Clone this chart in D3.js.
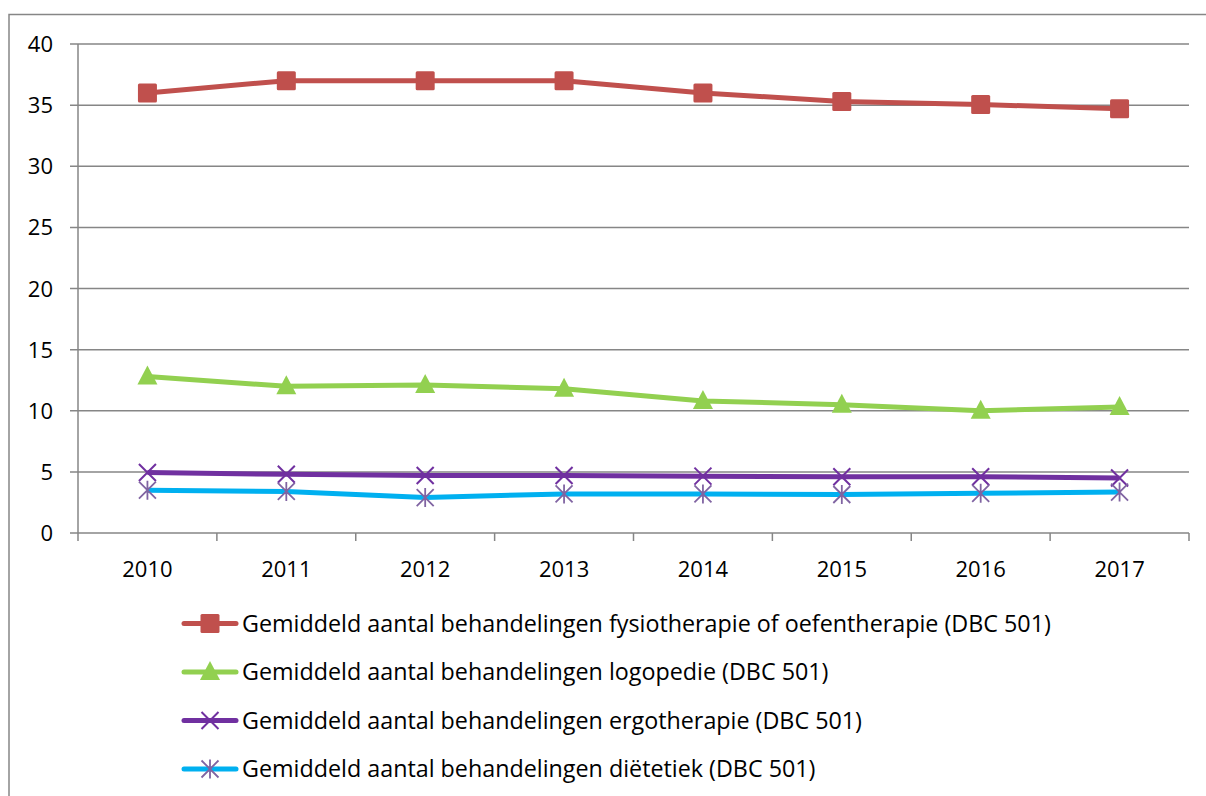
<!DOCTYPE html>
<html><head><meta charset="utf-8">
<script src="https://cdn.jsdelivr.net/npm/d3@7"></script>
<style>
html,body{margin:0;padding:0;background:#fff;}
svg{display:block;}
text{font-family:"Open Sans",Lato,sans-serif;fill:#000;}
</style></head><body>
<svg id="chart" width="1206" height="796"></svg>
<script>
const years = ["2010","2011","2012","2013","2014","2015","2016","2017"];
const yTicks = [0,5,10,15,20,25,30,35,40];
const seriesNames = [
  "Gemiddeld aantal behandelingen fysiotherapie of oefentherapie (DBC 501)",
  "Gemiddeld aantal behandelingen logopedie (DBC 501)",
  "Gemiddeld aantal behandelingen ergotherapie (DBC 501)",
  "Gemiddeld aantal behandelingen diëtetiek (DBC 501)"
];
const fysio = [36.0, 37.0, 37.0, 37.0, 36.0, 35.3, 35.05, 34.7];
const logopedie = [12.8, 12.0, 12.1, 11.8, 10.8, 10.5, 10.0, 10.3];
const ergo = [4.95, 4.8, 4.7, 4.7, 4.65, 4.6, 4.6, 4.5];
const dietetiek = [3.5, 3.4, 2.9, 3.2, 3.2, 3.15, 3.25, 3.35];
const lineColors = ["#C0504D","#92D050","#7030A0","#00B0F0"];
const markerColors = ["#C0504D","#92D050","#7030A0","#8064A2"];
const markerTypes = ["square","triangle","x","asterisk"];
const seriesValues = [fysio, logopedie, ergo, dietetiek];

const svg = d3.select("#chart");
svg.append("rect").attr("x",9).attr("y",14.5).attr("width",1210).attr("height",800)
  .attr("fill","none").attr("stroke","#868686").attr("stroke-width",1.5);

const pLeft=78, pRight=1189, pTop=44, pBottom=533;
const x = d3.scaleBand().domain(years).range([pLeft,pRight]);
const y = d3.scaleLinear().domain([0,40]).range([pBottom,pTop]);
const grid="#868686";

const g = svg.append("g");
g.selectAll(".grid").data(yTicks).join("line")
  .attr("x1",pLeft-8).attr("x2",pRight).attr("y1",d=>y(d)).attr("y2",d=>y(d))
  .attr("stroke",grid).attr("stroke-width",1.5);
g.append("line").attr("x1",pLeft).attr("x2",pLeft).attr("y1",pTop).attr("y2",pBottom+8)
  .attr("stroke",grid).attr("stroke-width",1.5);
const bounds = years.map(d=>x(d)).concat([pRight]).slice(1);
g.selectAll(".xt").data(bounds).join("line")
  .attr("x1",d=>d).attr("x2",d=>d).attr("y1",pBottom).attr("y2",pBottom+8)
  .attr("stroke",grid).attr("stroke-width",1.5);
g.selectAll(".yl").data(yTicks).join("text")
  .attr("x",53).attr("y",d=>y(d)+8).attr("text-anchor","end")
  .style("font-size","22px").text(d=>d);
g.selectAll(".xl").data(years).join("text")
  .attr("x",d=>x(d)+x.bandwidth()/2).attr("y",577).attr("text-anchor","middle")
  .style("font-size","22px").text(d=>d);

const line = d3.line().x((d,i)=>x(years[i])+x.bandwidth()/2).y(d=>y(d));
seriesValues.forEach((vals,si)=>{
  svg.append("path").datum(vals).attr("d",line).attr("fill","none")
    .attr("stroke",lineColors[si]).attr("stroke-width",5).attr("stroke-linejoin","round");
});

function drawMarker(sel, type, color, cx, cy){
  if(type==="square"){
    sel.append("rect").attr("x",cx-9.5).attr("y",cy-9.5).attr("width",19).attr("height",19)
      .attr("rx",1.5).attr("fill",color);
  } else if(type==="triangle"){
    sel.append("path").attr("d",`M${cx},${cy-11}L${cx+10},${cy+8}L${cx-10},${cy+8}Z`).attr("fill",color);
  } else if(type==="x"){
    const s=8.5;
    sel.append("path").attr("d",`M${cx-s},${cy-s}L${cx+s},${cy+s}M${cx+s},${cy-s}L${cx-s},${cy+s}`)
      .attr("stroke",color).attr("stroke-width",2).attr("fill","none");
  } else {
    const s=8.5;
    sel.append("path").attr("d",`M${cx-s},${cy-s}L${cx+s},${cy+s}M${cx+s},${cy-s}L${cx-s},${cy+s}M${cx},${cy-s-1}L${cx},${cy+s+1}`)
      .attr("stroke",color).attr("stroke-width",1.8).attr("fill","none");
  }
}
seriesValues.forEach((vals,si)=>{
  const mg = svg.append("g");
  vals.forEach((v,i)=>drawMarker(mg, markerTypes[si], markerColors[si], x(years[i])+x.bandwidth()/2, y(v)));
});

const legY = [623.5, 672, 720.5, 769];
seriesNames.forEach((name,si)=>{
  const lg = svg.append("g");
  const cy = legY[si];
  lg.append("line").attr("x1",184).attr("x2",236).attr("y1",cy).attr("y2",cy)
    .attr("stroke",lineColors[si]).attr("stroke-width",5).attr("stroke-linecap","round");
  drawMarker(lg, markerTypes[si], markerColors[si], 210, cy);
  lg.append("text").attr("x",242).attr("y",cy+8).style("font-size","23.3px").text(name);
});
</script></body></html>
